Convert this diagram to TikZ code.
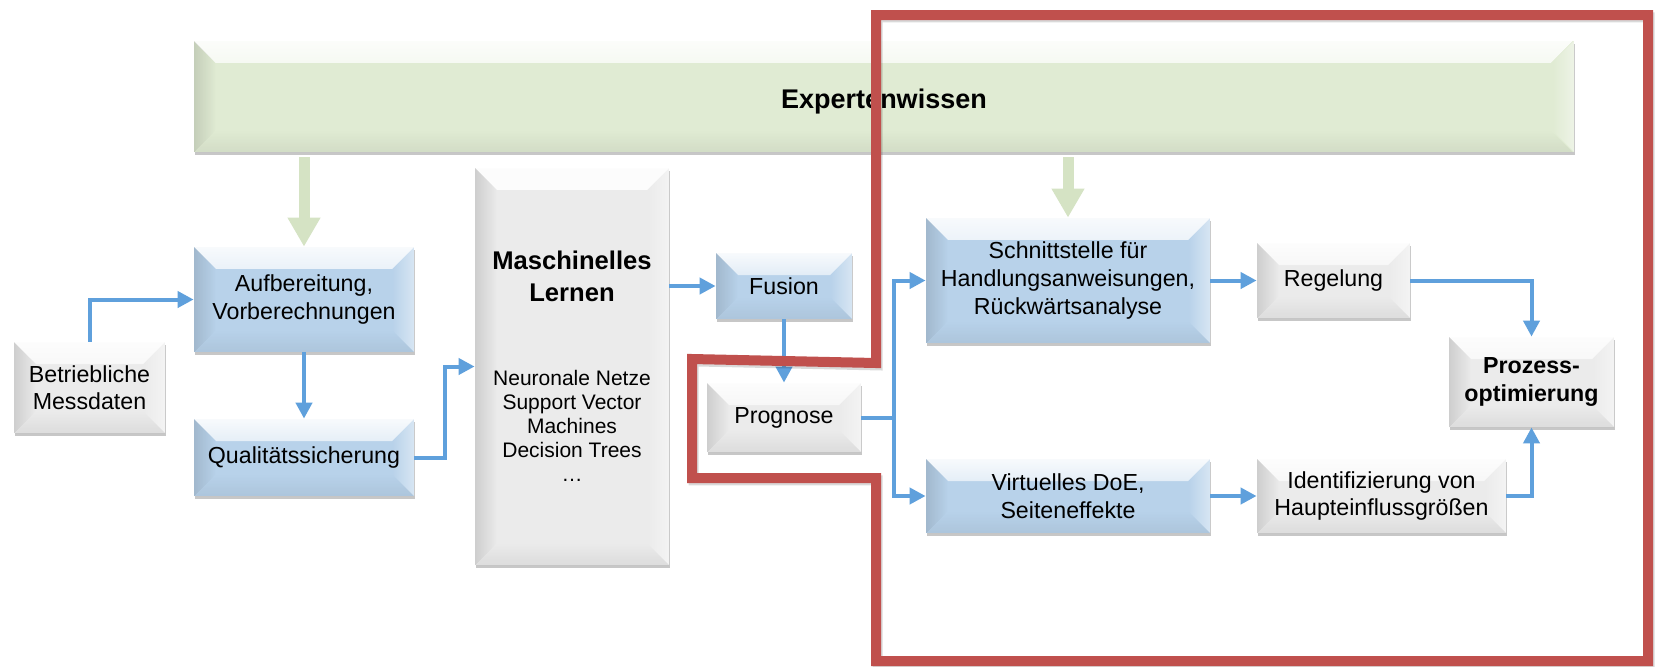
\documentclass[tikz,border=0pt]{standalone}
\usepackage{fontspec}
\setmainfont{Liberation Sans}
\usetikzlibrary{arrows.meta,shadows,calc,fadings}
\definecolor{blueface}{HTML}{B8D2EA}
\definecolor{grayface}{HTML}{EBEBEB}
\definecolor{greenface}{HTML}{E0EBD3}
\definecolor{arrowblue}{HTML}{5FA0DC}
\definecolor{arrowgreen}{HTML}{D5E3C4}
\definecolor{framered}{HTML}{C0504D}
\tikzset{
  bevel/.style={path picture={
    \fill[white,fill opacity=.9,path fading=south] (path picture bounding box.north west) -- (path picture bounding box.north east) -- ([shift={(-11pt,-11pt)}]path picture bounding box.north east) -- ([shift={(11pt,-11pt)}]path picture bounding box.north west) -- cycle;
    \fill[black,fill opacity=.12,path fading=east] (path picture bounding box.north west) -- ([shift={(11pt,-11pt)}]path picture bounding box.north west) -- ([shift={(11pt,11pt)}]path picture bounding box.south west) -- (path picture bounding box.south west) -- cycle;
    \fill[white,fill opacity=.45,path fading=west] (path picture bounding box.north east) -- ([shift={(-11pt,-11pt)}]path picture bounding box.north east) -- ([shift={(-11pt,11pt)}]path picture bounding box.south east) -- (path picture bounding box.south east) -- cycle;
    \fill[black,fill opacity=.06,path fading=north] (path picture bounding box.south west) -- ([shift={(11pt,11pt)}]path picture bounding box.south west) -- ([shift={(-11pt,11pt)}]path picture bounding box.south east) -- (path picture bounding box.south east) -- cycle;
  }},
  sz/.style 2 args={minimum width=#1*0.5pt, minimum height=#2*0.5pt},
  box/.style={bevel, inner sep=0pt, align=center,
    font=\fontsize{11.6}{13.8}\selectfont,
    drop shadow={shadow xshift=0.6pt, shadow yshift=-1.6pt, fill=black, opacity=.22}},
  bluebox/.style={box, fill=blueface},
  graybox/.style={box, fill=grayface},
  greenbox/.style={box, fill=greenface},
  txt/.style={inner sep=0pt, align=center},
  barrow/.style={draw=arrowblue, line width=2pt, -{Triangle[length=8pt,width=8pt]}},
  garrow/.style={draw=arrowgreen, line width=5.5pt, -{Triangle[length=14.5pt,width=15.5pt]}},
  redframe/.style={draw=framered, line width=5pt, line join=miter,
    preaction={draw=black, opacity=.15, line width=5pt, transform canvas={shift={(0.8pt,-1.2pt)}}}}
}
\begin{document}
\begin{tikzpicture}[x=0.5pt,y=-0.5pt]
\fill[white] (0,0) rectangle (1655,666);
\useasboundingbox (0,0) rectangle (1655,666);

% boxes
\node[greenbox, sz={1380}{111}, text height=14.5pt, font=\fontsize{13.5}{16}\selectfont\bfseries] (expert) at (884,96.5) {Expertenwissen};
\node[bluebox, sz={220}{105}] (aufb) at (304,299.5) {Aufbereitung,\\Vorberechnungen};
\node[bluebox, sz={220}{77}] (qual) at (304,457.5) {Qualitätssicherung};
\node[graybox, sz={151}{91}] (betr) at (89.5,387.5) {Betriebliche\\Messdaten};
\node[graybox, sz={194}{397}] (ml) at (572,366.5) {};
\node[txt, font=\fontsize{12.8}{16}\selectfont\bfseries] (mltitle) at (572,276.5) {Maschinelles\\Lernen};
\node[txt, font=\fontsize{10.5}{12}\selectfont] (mllist) at (572,426) {Neuronale Netze\\Support Vector\\Machines\\Decision Trees\\…};
\node[bluebox, sz={136}{66}] (fusion) at (784,286) {Fusion};
\node[graybox, sz={154}{69}] (prog) at (784,417.5) {Prognose};
\node[bluebox, sz={284}{125}] (schn) at (1068,280.5) {Schnittstelle für\\Handlungsanweisungen,\\Rückwärtsanalyse};
\node[graybox, sz={153}{75}] (regel) at (1333.5,280.5) {Regelung};
\node[graybox, sz={165}{90}, font=\fontsize{11.6}{14}\selectfont\bfseries] (proz) at (1531.5,382) {Prozess-\\optimierung};
\node[bluebox, sz={284}{74}] (virt) at (1068,496) {Virtuelles DoE,\\Seiteneffekte};
\node[graybox, sz={249}{74}] (ident) at (1381.5,496) {Identifizierung von\\Haupteinflussgrößen};

% green arrows
\coordinate (g1) at (expert.south -| aufb.north);
\coordinate (g2) at (expert.south -| schn.north);
\draw[garrow] ([yshift=-2.5pt]g1) -- (aufb.north);
\draw[garrow] ([yshift=-2.5pt]g2) -- (schn.north);

% blue arrows
\draw[barrow] (betr.north) |- (aufb.west);
\draw[barrow] (aufb.south) -- (qual.north);
\coordinate (m1) at ($(qual.east)!.5!(ml.west)$);
\draw[barrow] (qual.east) -| (m1) |- (ml.west);
\draw[barrow] (ml.east |- fusion.west) -- (fusion.west);
\draw[barrow] (fusion.south) -- (prog.north);
\coordinate (sp) at ($(prog.east)+(33,0)$);
\draw[barrow] (prog.east) -- (sp) |- (schn.west);
\draw[barrow] (sp) |- (virt.west);
\draw[barrow] (schn.east) -- (regel.west);
\draw[barrow] (regel.east) -| (proz.north);
\draw[barrow] (virt.east) -- (ident.west);
\draw[barrow] (ident.east) -| (proz.south);

% red frame
\draw[redframe] (876,15) -- (1648,15) -- (1648,661) -- (876,661) -- (876,478) -- (692,478) -- (692,359) -- (876,363) -- cycle;
\end{tikzpicture}
\end{document}
